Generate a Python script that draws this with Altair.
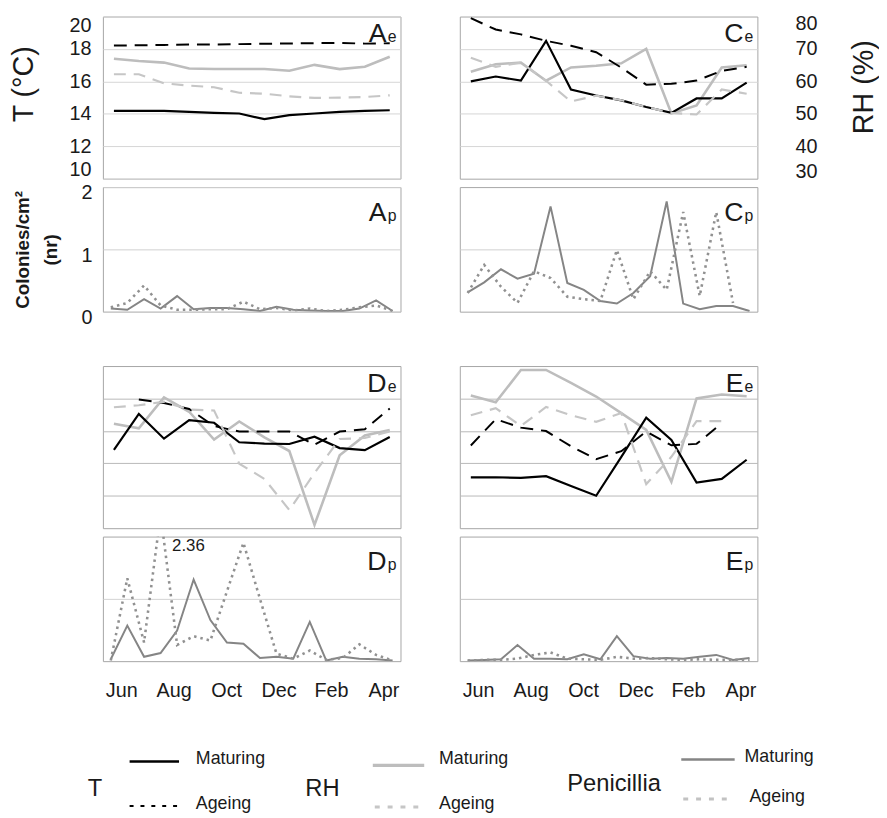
import altair as alt
import pandas as pd

FONT = "Liberation Sans"
TXT = "#1a1a1a"

# ---------------- data ----------------
MONTH_NAMES = ["Jun", "Jul", "Aug", "Sep", "Oct", "Nov", "Dec", "Jan", "Feb", "Mar", "Apr"]
AXIS_MONTHS = [0, 2, 4, 6, 8, 10]

# sampling times (months after 1 June)
ENV_MONTHS = [-0.28, 0.67, 1.63, 2.59, 3.54, 4.50, 5.46, 6.41, 7.37, 8.33, 9.29, 10.24]
PEN_MONTHS = [-0.40, 0.23, 0.87, 1.50, 2.13, 2.76, 3.40, 4.03, 4.66, 5.29, 5.92,
              6.56, 7.19, 7.82, 8.45, 9.08, 9.72, 10.35]

# site A
T_MAT_A = [14.18, 14.18, 14.18, 14.12, 14.06, 14.02, 13.67, 13.92, 14.02, 14.12, 14.18, 14.22]
T_AGE_A = [18.21, 18.23, 18.25, 18.27, 18.27, 18.30, 18.32, 18.34, 18.36, 18.37, 18.33, 18.35]
RH_MAT_A = [67.0, 66.3, 65.8, 64.0, 63.8, 63.8, 63.8, 63.3, 65.1, 63.8, 64.5, 67.6]
RH_AGE_A = [62.2, 62.2, 59.4, 58.7, 58.2, 56.5, 56.2, 55.4, 54.9, 55.0, 55.2, 55.7]
PEN_MAT_A = [0.05, 0.03, 0.20, 0.05, 0.25, 0.04, 0.06, 0.06, 0.04, 0.01, 0.08, 0.03,
             0.02, 0.01, 0.01, 0.05, 0.18, 0.01]
PEN_AGE_A = [0.07, 0.14, 0.42, 0.10, 0.03, 0.03, 0.04, 0.04, 0.16, 0.04, 0.06, 0.02,
             0.05, 0.01, 0.03, 0.07, 0.10, 0.01]

# site C
T_MAT_C = [16.0, 16.3, 16.05, 18.5, 15.5, 15.13, 14.83, 14.42, 14.06, 14.95, 14.95, 15.93]
T_AGE_C = [19.9, 19.2, 18.9, 18.5, 18.2, 17.8, 16.85, 15.8, 15.85, 16.05, 16.65, 16.9]
RH_MAT_C = [63.0, 65.3, 65.8, 60.2, 64.3, 64.8, 65.6, 70.0, 50.1, 52.6, 64.3, 65.0]
RH_AGE_C = [67.3, 64.5, 65.8, 60.2, 53.8, 55.6, 54.2, 52.1, 50.3, 49.8, 57.5, 56.2]
PEN_MAT_C = [0.31, 0.47, 0.68, 0.53, 0.61, 1.69, 0.46, 0.35, 0.17, 0.13, 0.30, 0.57,
             1.77, 0.13, 0.04, 0.09, 0.09, 0.01]
PEN_AGE_C = [0.30, 0.75, 0.40, 0.14, 0.65, 0.54, 0.24, 0.20, 0.17, 0.99, 0.20, 0.65,
             0.35, 1.60, 0.25, 1.60, 0.14, None]

# site D
T_MAT_D = [14.83, 17.05, 15.52, 16.66, 16.5, 15.3, 15.22, 15.19, 15.64, 14.94, 14.81, 15.62]
T_AGE_D = [None, 17.93, 17.72, 17.35, 16.3, 15.96, 15.96, 15.96, 15.15, 15.96, 16.1, 17.38]
RH_MAT_D = [62.2, 60.8, 70.3, 65.9, 57.3, 62.9, 58.0, 53.8, 31.0, 52.5, 58.6, 60.3]
RH_AGE_D = [67.3, 67.9, 69.0, 66.6, 66.3, 49.9, 45.2, 35.6, 47.0, 57.5, 57.8, 59.8]
PEN_MAT_D = [0.03, 0.57, 0.07, 0.13, 0.49, 1.31, 0.66, 0.30, 0.28, 0.05, 0.07, 0.04,
             0.63, 0.01, 0.07, 0.04, 0.03, 0.01]
PEN_AGE_D = [0.01, 1.33, 0.30, 2.36, 0.26, 0.40, 0.33, 1.12, 1.90, 1.00, 0.12, 0.04,
             0.17, 0.02, 0.05, 0.27, 0.10, 0.01]

# site E
T_MAT_E = [13.13, 13.14, 13.1, 13.21, 12.6, 12.0, 14.4, 16.82, 15.44, 12.81, 13.04, 14.22]
T_AGE_E = [15.1, 16.72, 16.2, 15.99, 15.05, 14.25, 14.75, 15.96, 15.11, 15.2, 16.47, None]
RH_MAT_E = [70.9, 68.8, 78.8, 78.8, 74.8, 70.6, 65.5, 60.3, 44.3, 70.0, 71.2, 70.7]
RH_AGE_E = [64.8, 67.0, 61.5, 67.4, 64.8, 62.8, 65.5, 43.6, 52.0, 63.0, 63.0, None]
PEN_MAT_E = [0.01, 0.02, 0.03, 0.26, 0.04, 0.04, 0.03, 0.11, 0.03, 0.40, 0.08, 0.04,
             0.05, 0.04, 0.07, 0.10, 0.02, 0.05]
PEN_AGE_E = [0.01, 0.02, 0.02, 0.04, 0.10, 0.14, 0.04, 0.03, 0.02, 0.07, 0.04, 0.05,
             0.03, 0.02, 0.03, 0.02, 0.02, 0.02]

# ---------------- styling ----------------
W = 301
HE = 164
HP = 126
ROW_GAP = 8.5

X_SCALE = alt.Scale(domain=[-0.7, 10.65], nice=False, zero=False)
T_SCALE = alt.Scale(domain=[10, 20], nice=False, zero=False)
RH_SCALE = alt.Scale(domain=[30, 80], nice=False, zero=False)
P_SCALE = alt.Scale(domain=[0, 2], nice=False, zero=False)

STYLE = {
    "t_mat": dict(color="#000000", strokeWidth=2.2),
    "t_age": dict(color="#000000", strokeWidth=2.0, strokeDash=[13, 8]),
    "rh_mat": dict(color="#bdbdbd", strokeWidth=2.6),
    "rh_age": dict(color="#c6c6c6", strokeWidth=2.2, strokeDash=[12, 8]),
    "p_mat": dict(color="#858585", strokeWidth=2.0),
    "p_age": dict(color="#919191", strokeWidth=2.6, strokeDash=[2.5, 4]),
}


def series(months, values):
    return pd.DataFrame({"month": months, "value": values}).dropna()


def line(months, values, style, yscale, yaxis=None, xaxis=None):
    return alt.Chart(series(months, values)).mark_line(clip=True, **STYLE[style]).encode(
        x=alt.X("month:Q", scale=X_SCALE, axis=xaxis),
        y=alt.Y("value:Q", scale=yscale, axis=yaxis),
    )


def one():
    return alt.Chart(alt.Data(values=[{}]))


def panel_label(letter, sub, ybase):
    big = one().mark_text(text=letter, font=FONT, fontSize=27, align="right",
                          baseline="alphabetic", color=TXT).encode(
        x=alt.value(W - 14), y=alt.value(ybase))
    small = one().mark_text(text=sub, font=FONT, fontSize=16, align="left",
                            baseline="alphabetic", color=TXT).encode(
        x=alt.value(W - 13), y=alt.value(ybase))
    return [big, small]


def hidden_axis(values, grid_color):
    return alt.Axis(labels=False, ticks=False, domain=False, title=None, grid=True,
                    values=values, gridColor=grid_color, gridWidth=1)


def env_panel(t_mat, t_age, rh_mat, rh_age, letter, grid_color, show_t=False, show_rh=False):
    if show_t:
        t_axis = alt.Axis(values=[10, 12, 14, 16, 18, 20], ticks=False, domain=False,
                          grid=True, gridColor=grid_color, labelFontSize=20,
                          labelPadding=12, labelFlush=True, labelFlushOffset=1,
                          title="T (°C)", titleFontSize=29, titleFontWeight="normal",
                          titleAngle=270, titleAlign="center", titleBaseline="top",
                          titleX=-94, titleY=68)
    else:
        t_axis = hidden_axis([12, 14, 16, 18], grid_color)
    rh_axis = None
    if show_rh:
        rh_axis = alt.Axis(orient="right", values=[30, 40, 50, 60, 70, 80], ticks=False,
                           domain=False, grid=False, labelFontSize=20, labelPadding=38,
                           labelFlush=True, labelFlushOffset=3,
                           title="RH (%)", titleFontSize=29, titleFontWeight="normal",
                           titleAngle=270, titleAlign="center", titleBaseline="top",
                           titleX=93, titleY=71)
    layers = [
        line(ENV_MONTHS, rh_mat, "rh_mat", RH_SCALE, rh_axis),
        line(ENV_MONTHS, t_mat, "t_mat", T_SCALE, t_axis),
        line(ENV_MONTHS, t_age, "t_age", T_SCALE),
        line(ENV_MONTHS, rh_age, "rh_age", RH_SCALE),
    ] + panel_label(letter, "e", 26)
    return alt.layer(*layers).resolve_scale(y="independent").properties(width=W, height=HE)


def pen_panel(mat, age, letter, grid_color, show_y=False, show_x=False, extra=None):
    if show_y:
        y_axis = alt.Axis(values=[0, 1, 2], labelExpr="toString(datum.value)",
                          ticks=False, domain=False, labelOverlap=False,
                          grid=True, gridColor=grid_color, labelFontSize=20,
                          labelPadding=11, labelOffset=6,
                          title=["Colonies/cm²", "(nr)"], titleFontSize=19,
                          titleFontWeight="bold", titleAngle=270, titleAlign="center",
                          titleBaseline="top", titleX=-90, titleY=HP / 2,
                          titleLineHeight=28)
    else:
        y_axis = hidden_axis([1], grid_color)
    x_axis = None
    if show_x:
        x_axis = alt.Axis(values=AXIS_MONTHS, ticks=False, domain=False, grid=False,
                          labelFontSize=20, labelPadding=20, labelFlush=False,
                          labelExpr=f"{MONTH_NAMES}[datum.value]", title=None)
    # both layers share the same scales, so they carry the same axis settings
    layers = [
        line(PEN_MONTHS, mat, "p_mat", P_SCALE, y_axis, x_axis),
        line(PEN_MONTHS, age, "p_age", P_SCALE, y_axis, x_axis),
    ] + panel_label(letter, "p", 34)
    if extra is not None:
        layers.append(extra)
    return alt.layer(*layers).properties(width=W, height=HP)


ae = env_panel(T_MAT_A, T_AGE_A, RH_MAT_A, RH_AGE_A, "A", "#d6d6d6", show_t=True)
ce = env_panel(T_MAT_C, T_AGE_C, RH_MAT_C, RH_AGE_C, "C", "#d6d6d6", show_rh=True)
de = env_panel(T_MAT_D, T_AGE_D, RH_MAT_D, RH_AGE_D, "D", "#b8b8b8")
ee = env_panel(T_MAT_E, T_AGE_E, RH_MAT_E, RH_AGE_E, "E", "#b8b8b8")

peak_note = one().mark_text(text="2.36", font=FONT, fontSize=17, align="left",
                            baseline="middle", color=TXT).encode(
    x=alt.value(70), y=alt.value(10))

ap = pen_panel(PEN_MAT_A, PEN_AGE_A, "A", "#cfcfcf", show_y=True)
cp = pen_panel(PEN_MAT_C, PEN_AGE_C, "C", "#cfcfcf")
dp = pen_panel(PEN_MAT_D, PEN_AGE_D, "D", "#d2d2d2", show_x=True, extra=peak_note)
ep = pen_panel(PEN_MAT_E, PEN_AGE_E, "E", "#c4c4c4", show_x=True)


def spacer(h):
    return one().mark_text(text="").encode(x=alt.value(0), y=alt.value(0)).properties(
        width=W, height=h, view=alt.ViewBackground(stroke="transparent"))


# ---------------- legend (drawn) ----------------
LY = 76  # vertical shift of legend contents inside its cell


def leg_rule(x1, x2, y, color, width, dash=None):
    kw = dict(color=color, strokeWidth=width)
    if dash is not None:
        kw["strokeDash"] = dash
    return one().mark_rule(**kw).encode(x=alt.value(x1), x2=alt.value(x2),
                                        y=alt.value(y + LY))


def leg_text(txt, x, y, size, align="left"):
    return one().mark_text(text=txt, font=FONT, fontSize=size, align=align,
                           baseline="middle", color=TXT).encode(
        x=alt.value(x), y=alt.value(y + LY))


legend_layers = [
    leg_text("T", -8, 45, 24, "center"),
    leg_rule(27, 77, 17, "#000000", 2.6),
    leg_text("Maturing", 94, 15, 18),
    leg_rule(27, 77, 62, "#000000", 2.2, [4, 7]),
    leg_text("Ageing", 94, 60, 18),
    leg_text("RH", 222, 45, 24, "center"),
    leg_rule(273, 325, 21, "#bdbdbd", 3.2),
    leg_text("Maturing", 340, 15, 18),
    leg_rule(275, 322, 63, "#c6c6c6", 3.0, [5, 8]),
    leg_text("Ageing", 340, 60, 18),
    leg_text("Penicillia", 517, 40, 24, "center"),
    leg_rule(585, 639, 15, "#858585", 2.6),
    leg_text("Maturing", 649, 13, 18),
    leg_rule(587, 637, 55, "#c2c2c2", 3.0, [5, 8]),
    leg_text("Ageing", 654, 53, 18),
]
legend = alt.layer(*legend_layers).properties(
    width=W, height=140, view=alt.ViewBackground(stroke="transparent"))

chart = alt.concat(
    ae, ce,
    ap, cp,
    spacer(55 - 2 * ROW_GAP), spacer(55 - 2 * ROW_GAP),
    de, ee,
    dp, ep,
    legend,
    columns=2, spacing={"row": ROW_GAP, "column": 60}, bounds="flush",
).properties(
    padding={"left": 1, "top": 0, "right": 0, "bottom": 0}
).configure_view(
    stroke="#a6a6a6", strokeWidth=1
).configure_axis(
    labelFont=FONT, titleFont=FONT, labelColor=TXT, titleColor=TXT
)

chart.save("out.html", embed_options={"renderer": "svg", "actions": False})
